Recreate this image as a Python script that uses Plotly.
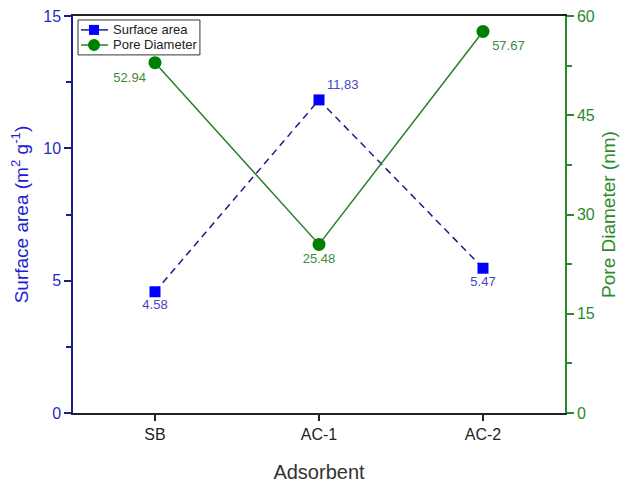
import plotly.graph_objects as go

# Adsorbent samples and measured textural properties
adsorbents = ["SB", "AC-1", "AC-2"]
surface_area = [4.58, 11.83, 5.47]          # m2/g
surface_labels = ["4.58", "11,83", "5.47"]
pore_diameter = [52.94, 25.48, 57.67]       # nm
pore_labels = ["52.94", "25.48", "57.67"]
legend_names = ["Surface area", "Pore Diameter"]

SA_LINE, SA_MARK, SA_TEXT = "#1c1c8a", "#0000ff", "#4545c0"
PD_LINE, PD_MARK, PD_TEXT = "#2a7d2a", "#008000", "#3d8a3d"
FONT = "Liberation Sans, Arial"

x_pos = list(range(len(adsorbents)))

fig = go.Figure()

fig.add_trace(go.Scatter(
    x=x_pos, y=surface_area, name=legend_names[0],
    mode="lines+markers+text",
    line=dict(color=SA_LINE, width=1.5, dash="7px,5px"),
    marker=dict(symbol="square", size=11, color=SA_MARK),
    text=surface_labels,
    textposition=["bottom center", "top right", "bottom center"],
    textfont=dict(color=SA_TEXT, size=13, family=FONT),
    yaxis="y", showlegend=False,
))

fig.add_trace(go.Scatter(
    x=x_pos, y=pore_diameter, name=legend_names[1],
    mode="lines+markers+text",
    line=dict(color=PD_LINE, width=1.5),
    marker=dict(symbol="circle", size=13, color=PD_MARK),
    text=pore_labels,
    textposition=["bottom left", "bottom center", "bottom right"],
    textfont=dict(color=PD_TEXT, size=13, family=FONT),
    yaxis="y2", showlegend=False,
))

# Compact boxed legend in the upper-left corner of the plot area
shapes = [dict(type="rect", xref="paper", yref="paper",
               x0=0.0102, x1=0.258, y0=0.902, y1=0.990,
               line=dict(color="#333333", width=1), fillcolor="white", layer="above")]
annotations = []
rows = [(0.965, SA_LINE, SA_MARK, "square"), (0.927, PD_LINE, PD_MARK, "circle")]
for (yr, lc, mc, sym), name in zip(rows, legend_names):
    for a, b in [(-13, -5), (5, 14)]:
        shapes.append(dict(type="line", xref="paper", yref="paper",
                           xsizemode="pixel", xanchor=0.0427, x0=a, x1=b,
                           y0=yr, y1=yr, line=dict(color=lc, width=1.5), layer="above"))
    r = 5 if sym == "square" else 6
    shapes.append(dict(type="rect" if sym == "square" else "circle",
                       xref="paper", yref="paper",
                       xsizemode="pixel", xanchor=0.0427, x0=-r, x1=r,
                       ysizemode="pixel", yanchor=yr, y0=-r, y1=r,
                       fillcolor=mc, line=dict(color=mc, width=0), layer="above"))
    annotations.append(dict(xref="paper", yref="paper", x=0.079, y=yr,
                            xanchor="left", yanchor="middle", showarrow=False,
                            borderpad=0,
                            text=name, font=dict(size=13, color="#222222", family=FONT)))

fig.update_layout(
    width=621, height=483,
    margin=dict(l=73, r=56, t=16, b=70),
    paper_bgcolor="white", plot_bgcolor="white",
    font=dict(family=FONT, size=15, color="#222222"),
    shapes=shapes, annotations=annotations,
    showlegend=False,
    xaxis=dict(
        range=[-0.5, 2.5],
        tickvals=x_pos, ticktext=adsorbents,
        showline=True, linecolor="#222222", linewidth=1.5, mirror=True,
        ticks="outside", ticklen=6, tickcolor="#222222", tickwidth=1.5,
        showgrid=False, zeroline=False, automargin=False,
        tickfont=dict(size=16, color="#222222"),
        title=dict(text="Adsorbent", font=dict(size=20, color="#333333"), standoff=30),
    ),
    yaxis=dict(
        range=[0, 15], tickvals=[0, 5, 10, 15],
        minor=dict(tickvals=[2.5, 7.5, 12.5], ticks="outside", ticklen=5,
                   tickcolor=SA_LINE, tickwidth=1.5),
        showline=True, linecolor=SA_LINE, linewidth=1.5,
        ticks="outside", ticklen=7, tickcolor=SA_LINE, tickwidth=1.5,
        showgrid=False, zeroline=False, automargin=False,
        tickfont=dict(size=16, color="#2828c8"),
        title=dict(text="Surface area (m<sup>2</sup> g<sup>-1</sup>)",
                   font=dict(size=19, color="#2020d0"), standoff=10),
    ),
    yaxis2=dict(
        range=[0, 60], tickvals=[0, 15, 30, 45, 60],
        minor=dict(tickvals=[7.5, 22.5, 37.5, 52.5], ticks="outside", ticklen=5,
                   tickcolor="#2a8a2a", tickwidth=1.5),
        overlaying="y", side="right",
        showline=True, linecolor="#2a8a2a", linewidth=1.5,
        ticks="outside", ticklen=7, tickcolor="#2a8a2a", tickwidth=1.5,
        showgrid=False, zeroline=False, automargin=False,
        tickfont=dict(size=16, color="#2a8a2a"),
        title=dict(text="Pore Diameter (nm)", font=dict(size=19, color="#2a8a2a"), standoff=8),
    ),
)

fig.write_html("out.html")
